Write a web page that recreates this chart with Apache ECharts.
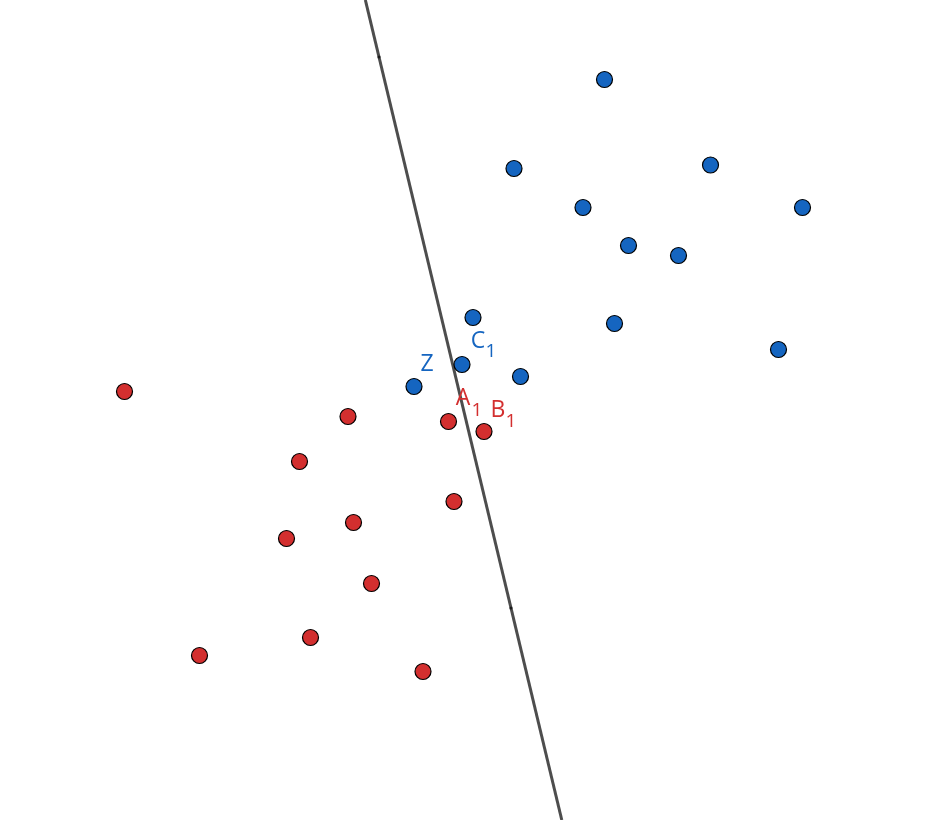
<!DOCTYPE html>
<html><head><meta charset="utf-8">
<script src="https://cdn.jsdelivr.net/npm/echarts@6/dist/echarts.min.js"></script>
<style>html,body{margin:0;padding:0;background:#fff}#c{width:952px;height:820px}</style>
</head><body><div id="c"></div>
<script>
const bluePoints = [[604.5,79.5],[514,168.5],[710.5,165],[583,207.5],[802.5,207.5],[628.5,245.5],[678.5,255.5],[473,317.5],[614.5,323.5],[778.5,349.5],[462,364.5],[414,386.5],[520.5,376.5]];
const redPoints = [[124.5,391.5],[348,416.5],[448.5,421.5],[484,431.5],[299.5,461.5],[454,501.5],[353.5,522.5],[286.5,538.5],[371.5,583.5],[310.5,637.5],[199.5,655.5],[423,671.5]];
const linePoints = [[379,57],[511,608]];
const blueLetters = [{text:'Z',pos:[427,364]},{text:'C',pos:[478,341]}];
const blueSubs = [{text:'1',pos:[491,352]}];
const redLetters = [{text:'A',pos:[463,398]},{text:'B',pos:[498,410]}];
const redSubs = [{text:'1',pos:[477,411]},{text:'1',pos:[511,422]}];

// extend the line through the two defining points to the canvas edges
const [p1,p2] = linePoints;
const k = (p2[0]-p1[0])/(p2[1]-p1[1]);
const lineEnds = [[p1[0]-p1[1]*k,0],[p1[0]+(820-p1[1])*k,820]];

function textSeries(list,color,size){
  return {type:'scatter',symbolSize:0,silent:true,z:5,itemStyle:{opacity:1},
    data:list.map(l=>({value:l.pos,name:l.text})),
    label:{show:true,position:'inside',formatter:'{b}',opacity:1,
      fontSize:size,color:color,fontFamily:'Open Sans'}};
}
const chart = echarts.init(document.getElementById('c'));
chart.setOption({
  animation:false,
  grid:{left:0,right:0,top:0,bottom:0},
  xAxis:{type:'value',min:0,max:952,show:false},
  yAxis:{type:'value',min:0,max:820,inverse:true,show:false},
  series:[
    {type:'line',data:lineEnds,symbol:'none',lineStyle:{color:'#4d4d4d',width:3},z:1},
    {type:'scatter',data:linePoints,symbolSize:3,itemStyle:{color:'#1a1a1a',opacity:1},z:2},
    {type:'scatter',data:bluePoints,symbolSize:16,itemStyle:{color:'#1565c0',opacity:1,borderColor:'#000',borderWidth:1.2},z:3},
    {type:'scatter',data:redPoints,symbolSize:16,itemStyle:{color:'#d32f2f',opacity:1,borderColor:'#000',borderWidth:1.2},z:3},
    textSeries(blueLetters,'#1565c0',23),
    textSeries(blueSubs,'#1565c0',19),
    textSeries(redLetters,'#d32f2f',23),
    textSeries(redSubs,'#d32f2f',19)
  ]
});
</script></body></html>
